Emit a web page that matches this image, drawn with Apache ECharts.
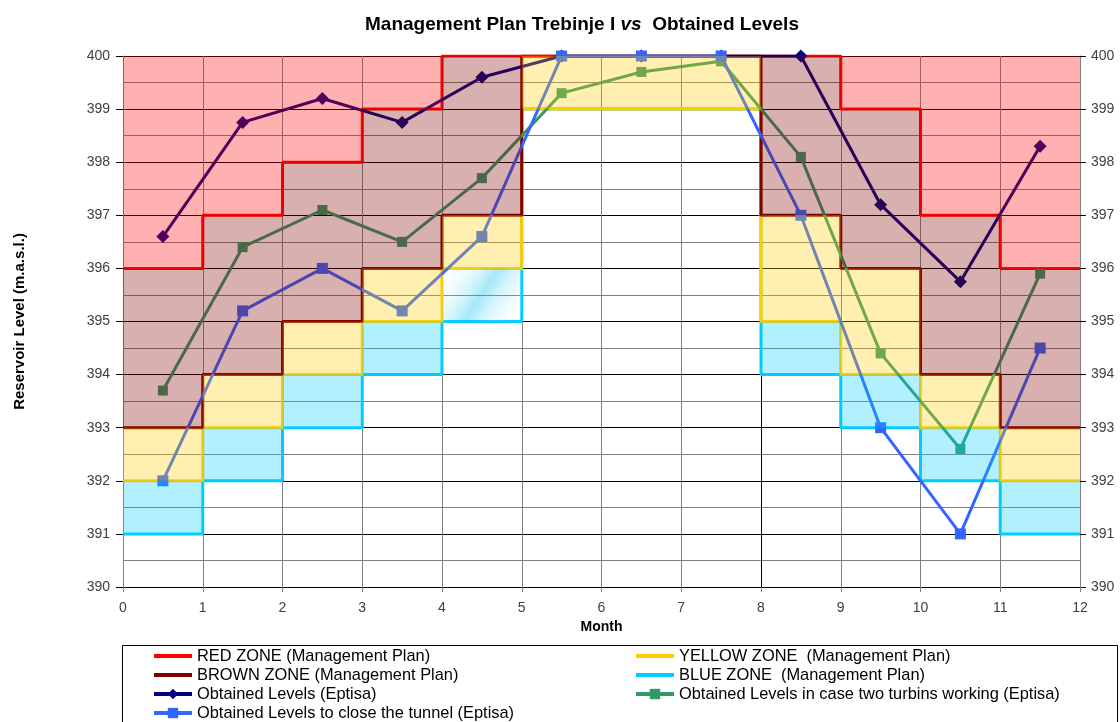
<!DOCTYPE html>
<html><head><meta charset="utf-8">
<script src="https://cdn.jsdelivr.net/npm/echarts@6/dist/echarts.min.js"></script>
<style>html,body{margin:0;padding:0;background:#fff}#c{width:1120px;height:722px}</style>
</head><body><div id="c"></div>
<script>
// ---- data ----
const months = [0, 1, 2, 3, 4, 5, 6, 7, 8, 9, 10, 11];
const monthEnd = 12;
const levelTop = 400;
const levelBottom = 390;

const redZone    = [396, 397, 398, 399, 400, 400, 400, 400, 400, 399, 397, 396];
const brownZone  = [393, 394, 395, 396, 397, 400, 400, 400, 397, 396, 394, 393];
const yellowZone = [392, 393, 394, 395, 396, 399, 399, 399, 395, 394, 393, 392];
const blueZone   = [391, 392, 393, 394, 395, 399, 399, 399, 394, 393, 392, 391];

const obtained    = [396.6, 398.75, 399.2, 398.75, 399.6, 400, 400, 400, 400, 397.2, 395.75, 398.3];
const twoTurbines = [393.7, 396.4, 397.1, 396.5, 397.7, 399.3, 399.7, 399.9, 398.1, 394.4, 392.6, 395.9];
const closeTunnel = [392.0, 395.2, 396.0, 395.2, 396.6, 400, 400, 400, 397.0, 393.0, 391.0, 394.5];

const names = {
  red: 'RED ZONE (Management Plan)',
  yellow: 'YELLOW ZONE  (Management Plan)',
  brown: 'BROWN ZONE (Management Plan)',
  blue: 'BLUE ZONE  (Management Plan)',
  obt: 'Obtained Levels (Eptisa)',
  two: 'Obtained Levels in case two turbins working (Eptisa)',
  close: 'Obtained Levels to close the tunnel (Eptisa)'
};

// ---- helpers ----
const stepData = v => months.map((m, i) => [m, v[i]]).concat([[monthEnd, v[v.length - 1]]]);
const midData = v => months.map((m, i) => [m + 0.5, v[i]]);
const bandData = (lo, hi) => months.map((m, i) => [m, lo[i], hi[i]]);
const topArr = months.map(() => levelTop);
const gradientMonth = 4;

function bandSeries(lo, hi, color, special) {
  return {
    type: 'custom', silent: true, z: 10,
    encode: { x: 0, y: [1, 2] },
    data: bandData(lo, hi),
    renderItem: function (params, api) {
      const m = api.value(0), l = api.value(1), h = api.value(2);
      if (h <= l) return null;
      const p0 = api.coord([m, h]);
      const p1 = api.coord([m + 1, l]);
      let fill = color;
      if (special && m === gradientMonth) {
        fill = { type: 'linear', x: 0, y: 0, x2: 1, y2: 1, colorStops: [
          { offset: 0, color: 'rgba(255,255,255,0)' },
          { offset: 0.5, color: 'rgba(0,190,240,0.35)' },
          { offset: 1, color: 'rgba(255,255,255,0)' } ] };
      }
      return { type: 'rect', shape: { x: p0[0], y: p0[1], width: p1[0] - p0[0], height: p1[1] - p0[1] }, style: { fill: fill } };
    }
  };
}

function zoneLine(name, v, color, z) {
  return { name: name, type: 'line', step: 'end', data: stepData(v), symbol: 'none', z: z,
    lineStyle: { color: color, width: 3 }, itemStyle: { color: color } };
}
function dataLine(name, v, color, symbol, size, z) {
  return { name: name, type: 'line', data: midData(v), symbol: symbol, symbolSize: size, z: z,
    lineStyle: { color: color, width: 3 }, itemStyle: { color: color } };
}

const chart = echarts.init(document.getElementById('c'), null, { renderer: 'canvas' });
const font = 'Liberation Sans, Arial, sans-serif';
const vGridColors = months.concat([monthEnd]).map(m => (m === 8 ? '#000000' : '#808080'));
const plainIcon = n => ({ name: n, itemStyle: { color: 'rgba(0,0,0,0)', opacity: 0 } });
const legendCommon = {
  orient: 'vertical', top: 648, padding: 0, itemGap: 3,
  itemWidth: 38, itemHeight: 13,
  lineStyle: { width: 4 },
  textStyle: { fontSize: 16.4, color: '#000', fontFamily: font }
};

chart.setOption({
  animation: false,
  backgroundColor: '#ffffff',
  textStyle: { fontFamily: font },
  title: {
    text: 'Management Plan Trebinje I {i|vs}  Obtained Levels',
    left: 360, top: 10,
    textStyle: { fontSize: 19, fontWeight: 'bold', color: '#000', fontFamily: font,
      rich: { i: { fontSize: 19, fontWeight: 'bold', fontStyle: 'italic', color: '#000', fontFamily: font } } }
  },
  grid: { left: 123, right: 40, top: 56, bottom: 135, containLabel: false },
  xAxis: {
    type: 'value', min: 0, max: 12, interval: 1,
    name: 'Month', nameLocation: 'middle', nameGap: 33,
    nameTextStyle: { fontSize: 14, fontWeight: 'bold', color: '#000', fontFamily: font },
    axisLine: { show: true, onZero: false, lineStyle: { color: '#000', width: 1 } },
    axisTick: { show: true, length: 5, lineStyle: { color: '#808080' } },
    axisLabel: { fontSize: 14, color: '#404040', margin: 14, fontFamily: font },
    splitLine: { show: true, lineStyle: { color: vGridColors, width: 1 } }
  },
  yAxis: [{
    type: 'value', min: levelBottom, max: levelTop, interval: 1, position: 'left',
    name: 'Reservoir Level (m.a.s.l.)', nameLocation: 'middle', nameGap: 96, nameRotate: 90,
    nameTextStyle: { fontSize: 15, fontWeight: 'bold', color: '#000', fontFamily: font },
    axisLine: { show: true, lineStyle: { color: '#808080' } },
    axisTick: { show: true, length: 7, lineStyle: { color: '#000' } },
    axisLabel: { fontSize: 14, color: '#404040', margin: 13, fontFamily: font },
    splitLine: { show: true, lineStyle: { color: '#000', width: 1 } },
    minorTick: { show: false, splitNumber: 2 },
    minorSplitLine: { show: true, lineStyle: { color: '#808080', width: 1 } }
  }, {
    type: 'value', min: levelBottom, max: levelTop, interval: 1, position: 'right',
    axisLine: { show: true, lineStyle: { color: '#808080' } },
    axisTick: { show: true, length: 6, lineStyle: { color: '#000' } },
    axisLabel: { fontSize: 14, color: '#404040', margin: 11, fontFamily: font },
    splitLine: { show: false }
  }],
  legend: [
    Object.assign({}, legendCommon, { left: 152,
      data: [plainIcon(names.red), plainIcon(names.brown), names.obt, names.close] }),
    Object.assign({}, legendCommon, { left: 634,
      data: [plainIcon(names.yellow), plainIcon(names.blue), names.two] })
  ],
  graphic: [{
    type: 'rect', left: 120, top: 643, shape: { width: 995, height: 120 }, silent: true,
    style: { fill: 'none', stroke: '#000', lineWidth: 1 }
  }],
  series: [
    zoneLine(names.blue, blueZone, '#00CCFF', 2),
    zoneLine(names.yellow, yellowZone, '#FFCC00', 3),
    zoneLine(names.brown, brownZone, '#800000', 4),
    zoneLine(names.red, redZone, '#FF0000', 5),
    dataLine(names.obt, obtained, '#000080', 'diamond', 13, 6),
    dataLine(names.two, twoTurbines, '#339966', 'rect', 10, 7),
    dataLine(names.close, closeTunnel, '#3366FF', 'rect', 11, 8),
    bandSeries(redZone, topArr, 'rgba(255,0,0,0.31)'),
    bandSeries(brownZone, redZone, 'rgba(128,0,0,0.31)'),
    bandSeries(yellowZone, brownZone, 'rgba(255,204,0,0.31)'),
    bandSeries(blueZone, yellowZone, 'rgba(0,204,255,0.30)', true)
  ]
});
</script>
</body></html>
